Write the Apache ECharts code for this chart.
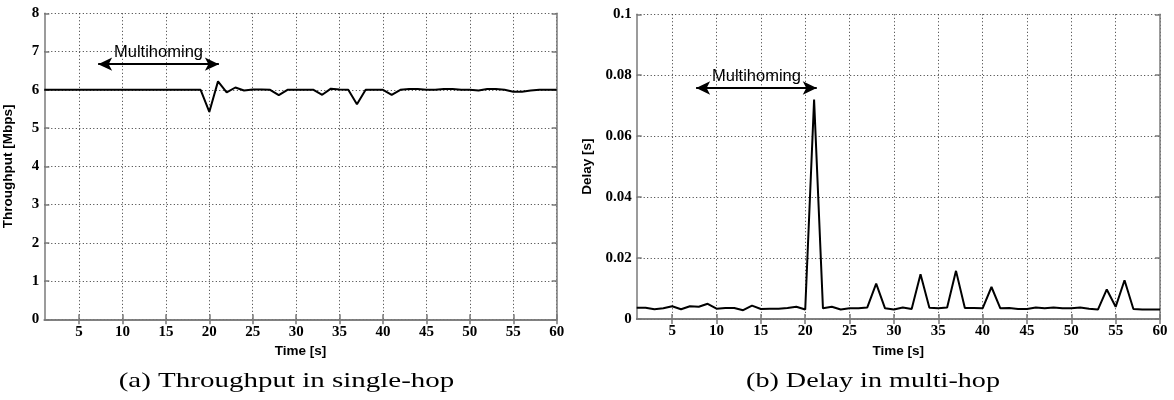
<!DOCTYPE html>
<html>
<head>
<meta charset="utf-8">
<script src="https://cdn.jsdelivr.net/npm/echarts@6/dist/echarts.min.js"></script>
<style>
  html, body { margin: 0; padding: 0; background: #fff; }
  #chart { width: 1174px; height: 400px; }
</style>
</head>
<body>
<div id="chart"></div>
<script>
// Sample times (s)
const timeSec = [1, 2, 3, 4, 5, 6, 7, 8, 9, 10, 11, 12, 13, 14, 15, 16, 17, 18, 19, 20,
  21, 22, 23, 24, 25, 26, 27, 28, 29, 30, 31, 32, 33, 34, 35, 36, 37, 38, 39, 40,
  41, 42, 43, 44, 45, 46, 47, 48, 49, 50, 51, 52, 53, 54, 55, 56, 57, 58, 59, 60];

// (a) throughput, single-hop (Mbps)
const throughputMbps = [6.0, 6.0, 6.0, 6.0, 6.0, 6.0, 6.0, 6.0, 6.0, 6.0,
  6.0, 6.0, 6.0, 6.0, 6.0, 6.0, 6.0, 6.0, 6.0, 5.42,
  6.22, 5.93, 6.06, 5.98, 6.01, 6.01, 6.0, 5.86, 6.0, 6.0,
  6.0, 6.0, 5.87, 6.03, 6.01, 6.0, 5.62, 6.0, 6.0, 6.0,
  5.87, 6.0, 6.02, 6.02, 6.0, 6.0, 6.02, 6.02, 6.0, 6.0,
  5.98, 6.02, 6.02, 6.0, 5.95, 5.95, 5.98, 6.0, 6.0, 6.0];

// (b) delay, multi-hop (s)
const delaySec = [0.0037, 0.0037, 0.0032, 0.0035, 0.0042, 0.0032, 0.0042, 0.0040, 0.0050, 0.0034,
  0.0036, 0.0036, 0.0029, 0.0044, 0.0033, 0.0034, 0.0034, 0.0036, 0.0040, 0.0031,
  0.0720, 0.0035, 0.0040, 0.0031, 0.0035, 0.0035, 0.0038, 0.0116, 0.0035, 0.0031,
  0.0038, 0.0033, 0.0147, 0.0037, 0.0035, 0.0038, 0.0158, 0.0036, 0.0036, 0.0035,
  0.0105, 0.0035, 0.0036, 0.0033, 0.0033, 0.0038, 0.0035, 0.0038, 0.0035, 0.0035,
  0.0038, 0.0034, 0.0031, 0.0097, 0.0040, 0.0127, 0.0033, 0.0031, 0.0031, 0.0031];

// Tick positions on the time axis
const timeTicks = [5, 10, 15, 20, 25, 30, 35, 40, 45, 50, 55, 60];

// "Multihoming" double arrows: [start time, end time, level]
const multihomingA = [7.2, 21.1, 6.67];
const multihomingB = [7.7, 21.3, 0.0758];

const captions = ['(a) Throughput in single-hop', '(b) Delay in multi-hop'];

const FRAME = '#7a7a7a';
const tickFont = { fontFamily: 'Liberation Serif', fontSize: 15, fontWeight: 'bold', color: '#000' };
const nameFont = { fontFamily: 'Liberation Sans', fontSize: 13.5, fontWeight: 'bold', color: '#000' };
const gridDots = { show: true, lineStyle: { color: '#333', width: 1, type: [1, 2.5] } };

function timeAxis(gridIndex, pos, main) {
  return {
    type: 'value', gridIndex, position: pos, min: 1, max: 60,
    name: main ? 'Time [s]' : '', nameLocation: 'middle', nameGap: 21, nameTextStyle: nameFont,
    axisLine: { show: true, lineStyle: { color: FRAME, width: 1.5 } },
    axisTick: { show: true, inside: true, length: 5, customValues: timeTicks, lineStyle: { color: FRAME, width: 1.5 } },
    axisLabel: main ? Object.assign({ show: true, margin: 5, customValues: timeTicks }, tickFont) : { show: false },
    splitLine: main ? gridDots : { show: false }
  };
}

function valueAxis(gridIndex, pos, main, max, interval, name, gap) {
  return {
    type: 'value', gridIndex, position: pos, min: 0, max, interval,
    name: main ? name : '', nameLocation: 'middle', nameGap: gap, nameTextStyle: nameFont,
    axisLine: { show: true, lineStyle: { color: FRAME, width: 1.5 } },
    axisTick: { show: true, inside: true, length: 5, lineStyle: { color: FRAME, width: 1.5 } },
    axisLabel: main ? Object.assign({ show: true, margin: 5 }, tickFont) : { show: false },
    splitLine: main ? gridDots : { show: false }
  };
}

function arrowMark(span) {
  return {
    silent: true, animation: false,
    symbol: ['arrow', 'arrow'], symbolSize: [10, 14],
    lineStyle: { color: '#000', width: 2, type: 'solid' },
    label: { show: true, position: 'middle', formatter: 'Multihoming', distance: 3,
      fontFamily: 'Liberation Sans', fontSize: 16.5, color: '#000' },
    data: [[{ coord: [span[0], span[2]] }, { coord: [span[1], span[2]] }]]
  };
}

function caption(text, cx, stretch) {
  return {
    type: 'text', x: cx, y: 381.7, scaleX: stretch,
    style: { text, fontFamily: 'Liberation Serif', fontSize: 21, fill: '#000', align: 'center', verticalAlign: 'middle' }
  };
}

const chart = echarts.init(document.getElementById('chart'), null, { renderer: 'canvas' });
chart.setOption({
  animation: false,
  backgroundColor: '#fff',
  grid: [
    { left: 44.3, right: 617.3, top: 13.3, bottom: 80.7 },
    { left: 636.7, right: 14, top: 14.3, bottom: 81 }
  ],
  xAxis: [
    timeAxis(0, 'bottom', true), timeAxis(0, 'top', false),
    timeAxis(1, 'bottom', true), timeAxis(1, 'top', false)
  ],
  yAxis: [
    valueAxis(0, 'left', true, 8, 1, 'Throughput [Mbps]', 29),
    valueAxis(0, 'right', false, 8, 1, '', 0),
    valueAxis(1, 'left', true, 0.1, 0.02, 'Delay [s]', 42),
    valueAxis(1, 'right', false, 0.1, 0.02, '', 0)
  ],
  series: [
    {
      type: 'line', xAxisIndex: 0, yAxisIndex: 0, showSymbol: false,
      lineStyle: { color: '#000', width: 2 },
      data: timeSec.map((t, i) => [t, throughputMbps[i]]),
      markLine: arrowMark(multihomingA)
    },
    {
      type: 'line', xAxisIndex: 2, yAxisIndex: 2, showSymbol: false,
      lineStyle: { color: '#000', width: 2 },
      data: timeSec.map((t, i) => [t, delaySec[i]]),
      markLine: arrowMark(multihomingB)
    }
  ],
  graphic: [
    caption(captions[0], 286.5, 1.38),
    caption(captions[1], 873, 1.34)
  ]
});
</script>
</body>
</html>
